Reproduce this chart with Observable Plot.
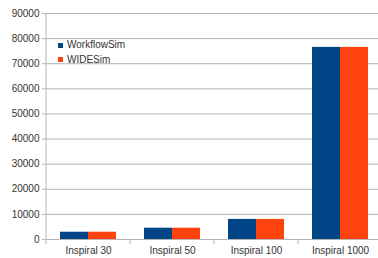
<!DOCTYPE html>
<html>
<head>
<meta charset="utf-8">
<script src="https://cdn.jsdelivr.net/npm/d3@7"></script>
<script src="https://cdn.jsdelivr.net/npm/@observablehq/plot@0.6"></script>
<style>
  html, body { margin: 0; padding: 0; background: #fff; overflow: hidden; }
  #wrap { position: relative; width: 378px; height: 258px; font-family: "Liberation Sans", Arial, sans-serif; }
  #legend { position: absolute; left: 58px; top: 38px; font-size: 10px; color: #333; line-height: 14.5px; }
  #legend .item { display: flex; align-items: center; white-space: nowrap; }
  #legend .sw { width: 5px; height: 5px; margin-right: 4px; }
</style>
</head>
<body>
<div id="wrap"></div>
<script>
const categories = ["Inspiral 30", "Inspiral 50", "Inspiral 100", "Inspiral 1000"];
const seriesNames = ["WorkflowSim", "WIDESim"];
const workflowSim = [2900, 4500, 8000, 76500];
const wideSim = [2900, 4500, 8000, 76500];
const yTicks = [0, 10000, 20000, 30000, 40000, 50000, 60000, 70000, 80000, 90000];
const colors = ["#004586", "#ff420e"];

const rows = [];
categories.forEach((c, i) => {
  rows.push({category: c, series: seriesNames[0], value: workflowSim[i]});
  rows.push({category: c, series: seriesNames[1], value: wideSim[i]});
});

const gridColor = "#b3b3b3";
const chart = Plot.plot({
  width: 378,
  height: 258,
  marginLeft: 44,
  marginRight: 0,
  marginTop: 13,
  marginBottom: 19,
  style: {fontFamily: "'Liberation Sans', Arial, sans-serif", fontSize: "10px", color: "#333", overflow: "visible"},
  fx: {domain: categories, range: [44.5, 383.5], padding: 0, label: null},
  x: {domain: seriesNames, paddingInner: 0, paddingOuter: 0.5, axis: null},
  y: {domain: [0, 90000], label: null},
  color: {domain: seriesNames, range: colors},
  marks: [
    Plot.gridY(yTicks, {stroke: gridColor, strokeOpacity: 1}),
    Plot.axisY(yTicks, {tickSize: 4, tickPadding: 3, stroke: gridColor, fill: "#333", tickFormat: d3.format("d"), label: null, fontSize: 10}),
    Plot.axisFx({anchor: "bottom", tickSize: 0, tickPadding: 7, label: null, fill: "#333", fontSize: 10}),
    Plot.barY(rows, {fx: "category", x: "series", y: "value", fill: "series", inset: 0})
  ]
});

// axis line and category separators built from the plot's own scales
const fxS = chart.scale("fx");
const yS = chart.scale("y");
const svg = d3.select(chart.tagName === "svg" ? chart : chart.querySelector("svg"));
const y0 = yS.apply(0);
const yTop = yS.apply(90000);
const edges = categories.map(c => fxS.apply(c));
edges.push(edges[edges.length - 1] + fxS.bandwidth);
const g = svg.append("g").attr("stroke", gridColor).attr("fill", "none");
g.append("line").attr("x1", edges[0]).attr("x2", edges[0]).attr("y1", yTop).attr("y2", y0 + 5);
edges.slice(1).forEach(e => {
  g.append("line").attr("x1", e).attr("x2", e).attr("y1", y0).attr("y2", y0 + 5);
});

const wrap = document.getElementById("wrap");
wrap.appendChild(chart);

const legend = document.createElement("div");
legend.id = "legend";
seriesNames.forEach((s, i) => {
  const item = document.createElement("div");
  item.className = "item";
  const sw = document.createElement("span");
  sw.className = "sw";
  sw.style.background = colors[i];
  const t = document.createElement("span");
  t.textContent = s;
  item.appendChild(sw);
  item.appendChild(t);
  legend.appendChild(item);
});
wrap.appendChild(legend);
</script>
</body>
</html>
